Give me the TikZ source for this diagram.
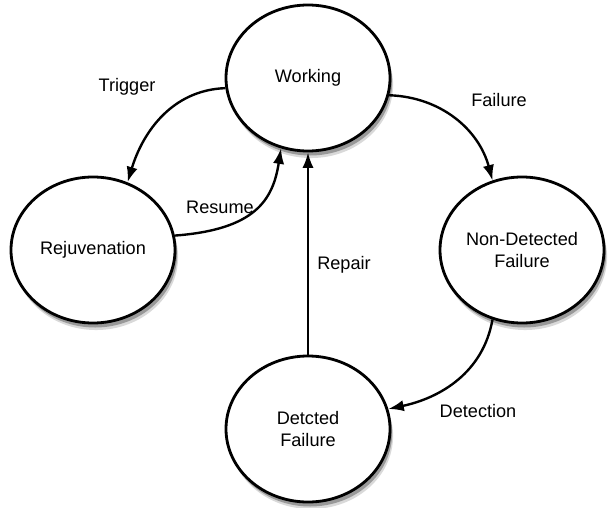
\documentclass[tikz,border=0pt]{standalone}
\usepackage{fontspec}
\setmainfont{Liberation Sans}
\usepackage{tikz}
\usetikzlibrary{arrows.meta,shapes,positioning,backgrounds}
\tikzset{
  state/.style    = {draw, ellipse, line width=2pt, fill=white, inner sep=0pt,
                     minimum width=4.1cm, minimum height=3.65cm, align=center,
                     font=\fontsize{12.9}{15.5}\selectfont},
  edgetext/.style = {inner sep=1pt, font=\fontsize{12.9}{15.5}\selectfont},
  flow/.style     = {->, line width=1.7pt}
}

\begin{document}
\begin{tikzpicture}[>={Latex[length=11pt,width=8pt]}]
    \useasboundingbox (0,0) rectangle (15.25,-12.675);

    % the four states
    \node[state] (s1) at (7.7,-1.95) {Working};
    \node[state] (s2) at (2.325,-6.25) {Rejuvenation};
    \node[state] (s3) at (13.05,-6.25) {Non-Detected\\Failure};
    \node[state] (s4) at (7.7,-10.725) {Detcted\\Failure};

    % soft shadows under the states
    \begin{scope}[on background layer]
      \foreach \value in {1,2,3,4} {
        \fill[black!15] ([xshift=2.2pt,yshift=-5pt]s\value.center) ellipse [x radius=2.05cm, y radius=1.825cm];
        \fill[black!40] ([xshift=1.5pt,yshift=-3.2pt]s\value.center) ellipse [x radius=2.05cm, y radius=1.825cm];
      }
    \end{scope}

    % transitions between the states
    \draw[flow] (s1.187) to[out=182,in=73] (s2.63);
    \draw[flow] (s1.-12) to[out=-2,in=105] (s3.113);
    \draw[flow] (s2.10) .. controls +(2.0,0.15) and +(-0.2,-1.3) .. (s1.249);
    \draw[flow] (s4) -- (s1);
    \draw[flow] (s3.247) to[out=-100,in=12] (s4.14);

    % transition names
    \node[edgetext] (t1) at (3.175,-2.175) {Trigger};
    \node[edgetext] (t2) at (12.475,-2.5) {Failure};
    \node[edgetext] (t3) at (5.5,-5.175) {Resume};
    \node[edgetext] (t4) at (8.6,-6.625) {Repair};
    \node[edgetext] (t5) at (11.95,-10.275) {Detection};
\end{tikzpicture}
\end{document}
